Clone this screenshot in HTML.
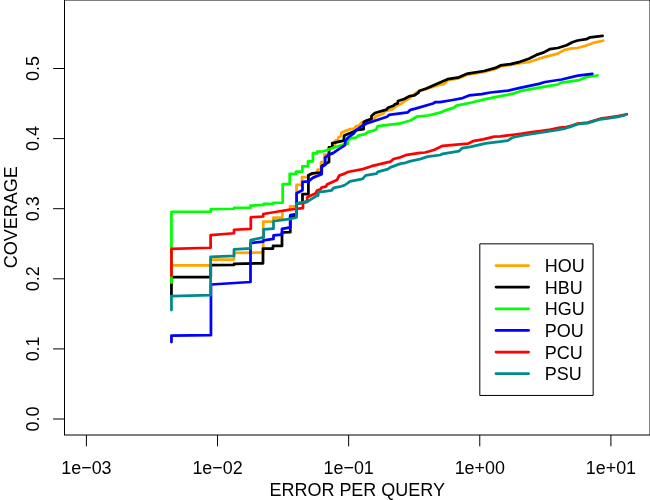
<!DOCTYPE html>
<html><head><meta charset="utf-8"><title>Coverage vs Error per Query</title>
<style>
html,body{margin:0;padding:0;background:#fff;}
body{width:650px;height:500px;overflow:hidden;position:relative;font-family:"Liberation Sans",sans-serif;}
.t{font-family:"Liberation Sans",sans-serif;fill:#000;}
</style></head><body>
<svg width="650" height="500" viewBox="0 0 650 500" style="position:absolute;left:0;top:0;display:block">
<rect x="0" y="0" width="650" height="500" fill="#fff"/>
<rect x="64.5" y="0" width="585.5" height="435" fill="none" stroke="#000" stroke-width="1"/>
<line x1="53.1" y1="419.00" x2="64.5" y2="419.00" stroke="#000" stroke-width="1"/>
<line x1="53.1" y1="348.90" x2="64.5" y2="348.90" stroke="#000" stroke-width="1"/>
<line x1="53.1" y1="278.80" x2="64.5" y2="278.80" stroke="#000" stroke-width="1"/>
<line x1="53.1" y1="208.70" x2="64.5" y2="208.70" stroke="#000" stroke-width="1"/>
<line x1="53.1" y1="138.60" x2="64.5" y2="138.60" stroke="#000" stroke-width="1"/>
<line x1="53.1" y1="68.50" x2="64.5" y2="68.50" stroke="#000" stroke-width="1"/>
<line x1="86.40" y1="435" x2="86.40" y2="446.3" stroke="#000" stroke-width="1"/>
<line x1="217.53" y1="435" x2="217.53" y2="446.3" stroke="#000" stroke-width="1"/>
<line x1="348.65" y1="435" x2="348.65" y2="446.3" stroke="#000" stroke-width="1"/>
<line x1="479.77" y1="435" x2="479.77" y2="446.3" stroke="#000" stroke-width="1"/>
<line x1="610.90" y1="435" x2="610.90" y2="446.3" stroke="#000" stroke-width="1"/>
<polyline points="171.45,285.00 171.45,265.35 210.75,265.35 210.75,259.60 234.00,259.60 234.00,252.95 263.20,252.50 263.20,221.60 273.40,221.60 273.40,217.70 282.40,217.70 282.40,211.00 290.00,209.70 290.00,206.30 296.50,206.30 296.50,184.90 302.00,184.90 302.00,177.20 306.50,177.20 308.40,175.40 316.80,172.80 317.60,169.60 321.00,169.60 321.00,162.00 324.20,162.00 324.20,154.50 329.00,154.50 329.00,147.30 332.30,147.30 332.30,145.20 335.00,145.00 335.00,140.70 338.10,139.80 338.50,137.10 340.80,136.40 341.50,132.50 344.20,131.40 350.40,129.10 354.20,128.70 355.80,126.40 359.60,125.20 361.20,122.90 363.50,121.80 368.00,120.80 372.60,119.00 373.80,118.70 376.50,116.00 383.40,113.70 384.50,111.40 392.60,109.10 395.70,106.40 401.80,103.30 404.20,101.40 409.50,98.30 412.00,95.60 415.40,93.30 418.00,91.40 420.00,90.50 427.00,88.80 440.00,84.70 444.00,84.10 447.60,80.20 458.90,78.30 467.70,74.60 484.10,72.00 495.40,68.90 500.50,66.40 510.50,64.90 520.00,63.10 530.00,61.80 545.20,56.80 557.80,53.60 564.00,50.20 570.40,48.60 577.60,48.00 586.40,45.50 595.20,42.30 603.10,40.75" fill="none" stroke="#FFA500" stroke-width="2.75" stroke-linejoin="round" stroke-linecap="round"/>
<polyline points="171.45,295.00 171.45,277.00 210.75,277.00 210.75,265.20 234.00,264.90 234.00,263.90 263.00,263.30 263.00,248.60 273.00,248.60 273.00,245.90 282.00,245.90 282.00,232.30 290.30,232.20 290.20,216.00 296.30,216.00 296.30,203.60 302.50,202.80 302.50,194.20 308.40,194.20 308.40,175.30 312.30,173.30 320.00,172.50 321.70,172.00 321.70,166.00 325.40,164.00 329.00,162.00 329.00,147.30 332.30,147.30 332.30,143.00 335.00,142.60 343.70,140.60 344.20,135.60 350.40,132.90 358.00,129.80 363.60,129.10 363.80,121.90 366.50,120.60 371.50,118.90 371.50,116.10 374.90,113.00 386.50,109.60 388.00,107.70 393.40,105.70 394.90,104.20 397.60,103.40 398.00,101.00 404.20,99.00 409.50,96.10 414.20,95.50 418.50,92.60 419.20,91.00 427.00,88.30 440.00,82.40 447.60,79.20 458.90,77.30 467.70,73.60 484.10,71.00 495.40,67.90 500.50,65.40 510.50,64.10 520.00,61.80 528.80,58.70 536.40,54.90 543.90,52.40 549.60,49.20 557.80,48.00 566.60,45.20 572.30,42.30 577.60,40.50 586.40,39.20 590.20,37.30 602.60,35.90" fill="none" stroke="#000000" stroke-width="2.75" stroke-linejoin="round" stroke-linecap="round"/>
<polyline points="171.45,282.70 171.45,211.75 210.80,211.55 210.80,209.15 234.00,208.75 234.00,207.75 250.60,207.65 250.60,205.55 263.80,204.90 263.80,203.90 273.40,203.60 273.40,202.80 282.70,202.60 282.70,184.10 289.70,184.10 289.70,173.90 296.10,173.90 296.10,171.50 302.40,171.50 302.40,166.40 308.00,166.40 308.00,161.30 312.90,161.30 312.90,153.30 317.20,153.30 317.20,151.60 323.50,151.30 328.10,149.80 331.90,148.30 343.50,144.50 347.70,143.70 347.70,140.60 351.20,137.90 355.80,137.90 358.10,135.60 365.00,134.10 368.10,131.80 372.60,130.90 376.40,129.30 377.60,126.20 399.00,123.70 410.40,120.50 416.70,116.70 428.00,115.50 440.00,112.70 446.30,110.10 453.90,107.60 456.40,105.70 471.50,102.50 486.60,98.80 500.50,96.20 513.00,93.70 520.00,91.20 535.00,88.30 549.00,85.80 557.80,84.50 561.60,82.60 579.20,80.10 586.80,76.90 597.60,75.50" fill="none" stroke="#00FF00" stroke-width="2.75" stroke-linejoin="round" stroke-linecap="round"/>
<polyline points="171.45,342.10 171.45,335.60 210.95,335.20 210.95,284.50 250.50,282.00 250.50,243.10 263.20,241.60 263.50,240.40 273.50,238.90 273.50,235.40 282.00,234.60 282.00,228.80 290.30,227.40 290.30,215.20 296.60,214.00 296.60,193.20 302.50,190.20 302.50,181.80 308.40,181.30 313.10,177.60 321.70,174.30 321.70,167.20 325.20,164.90 325.20,157.60 328.50,154.90 333.50,152.90 338.80,149.10 345.00,145.20 345.40,140.60 348.10,137.50 353.50,133.70 356.50,129.80 361.90,126.00 366.50,123.50 375.00,120.70 387.00,116.70 389.00,114.90 407.90,112.30 410.40,109.80 415.40,108.60 433.00,103.50 435.60,102.00 440.00,102.10 452.60,100.00 462.70,98.10 469.00,95.40 481.60,94.10 490.40,92.50 508.00,90.60 520.00,87.90 538.90,83.90 545.20,82.00 561.60,79.50 578.00,75.70 592.30,73.80" fill="none" stroke="#0000FF" stroke-width="2.75" stroke-linejoin="round" stroke-linecap="round"/>
<polyline points="171.45,275.70 171.45,248.95 210.60,247.75 210.60,235.15 234.00,233.25 234.00,229.75 250.80,228.85 250.80,217.25 263.20,216.50 263.20,214.00 290.40,209.50 303.00,208.10 303.00,203.00 307.20,202.00 307.20,197.40 311.50,195.30 315.80,193.20 317.00,190.50 320.70,189.20 321.50,187.60 326.20,186.40 326.90,184.60 336.90,180.10 339.20,175.60 344.60,173.60 347.60,172.00 362.70,169.10 371.50,166.20 390.40,161.70 393.50,159.00 399.20,157.70 406.80,154.80 420.00,152.90 425.00,152.50 433.90,150.00 442.70,145.80 467.90,143.70 472.90,141.20 483.00,139.30 494.30,136.70 500.00,136.40 508.00,135.40 515.10,134.50 522.00,133.70 531.50,132.20 540.00,131.00 550.40,129.60 560.00,127.60 566.00,127.00 570.00,126.20 577.60,123.50 587.60,122.50 600.20,118.70 607.80,117.70 617.90,116.20 626.80,114.25" fill="none" stroke="#FF0000" stroke-width="2.75" stroke-linejoin="round" stroke-linecap="round"/>
<polyline points="171.45,310.00 171.45,296.20 210.60,295.10 210.60,256.95 234.00,255.95 234.00,249.35 250.60,248.35 250.60,240.15 263.60,237.40 263.60,229.30 273.50,228.70 273.50,221.20 290.40,218.80 296.40,217.40 296.40,203.70 308.10,201.20 315.80,196.30 318.20,195.40 318.20,192.20 325.00,191.30 331.70,190.40 333.60,187.90 340.00,186.70 345.00,185.00 350.10,181.30 362.70,178.80 365.80,175.40 376.50,173.70 377.80,171.80 387.90,169.10 390.40,167.40 400.50,163.60 405.50,162.80 410.50,161.10 420.00,159.10 427.60,156.60 440.20,155.00 442.70,153.80 459.00,151.20 462.20,148.10 470.40,146.80 485.50,143.30 500.00,141.70 507.60,140.60 512.60,137.50 525.20,135.00 541.60,132.50 557.90,129.90 565.50,128.30 570.00,126.90 577.60,124.10 587.60,123.10 600.20,119.30 607.80,118.30 617.90,116.80 625.60,114.85" fill="none" stroke="#008B8B" stroke-width="2.75" stroke-linejoin="round" stroke-linecap="round"/>
<rect x="479.8" y="243.85" width="113.35" height="151.6" fill="#fff" stroke="#000" stroke-width="1" stroke-linejoin="round"/>
<line x1="496.0" y1="265.50" x2="528.6" y2="265.50" stroke="#FFA500" stroke-width="2.75" stroke-linecap="round"/>
<line x1="496.0" y1="287.10" x2="528.6" y2="287.10" stroke="#000000" stroke-width="2.75" stroke-linecap="round"/>
<line x1="496.0" y1="308.75" x2="528.6" y2="308.75" stroke="#00FF00" stroke-width="2.75" stroke-linecap="round"/>
<line x1="496.0" y1="330.40" x2="528.6" y2="330.40" stroke="#0000FF" stroke-width="2.75" stroke-linecap="round"/>
<line x1="496.0" y1="352.05" x2="528.6" y2="352.05" stroke="#FF0000" stroke-width="2.75" stroke-linecap="round"/>
<line x1="496.0" y1="373.70" x2="528.6" y2="373.70" stroke="#008B8B" stroke-width="2.75" stroke-linecap="round"/>
<g style="filter:grayscale(1)">
<text transform="translate(544.8,272.10) scale(1,1.06)" font-size="18" class="t">HOU</text>
<text transform="translate(544.8,293.70) scale(1,1.06)" font-size="18" class="t">HBU</text>
<text transform="translate(544.8,315.35) scale(1,1.06)" font-size="18" class="t">HGU</text>
<text transform="translate(544.8,337.00) scale(1,1.06)" font-size="18" class="t">POU</text>
<text transform="translate(544.8,358.65) scale(1,1.06)" font-size="18" class="t">PCU</text>
<text transform="translate(544.8,380.30) scale(1,1.06)" font-size="18" class="t">PSU</text>
<text transform="translate(86.40,474.2) scale(1,1.06)" font-size="17.9" text-anchor="middle" class="t">1e−03</text>
<text transform="translate(217.53,474.2) scale(1,1.06)" font-size="17.9" text-anchor="middle" class="t">1e−02</text>
<text transform="translate(348.65,474.2) scale(1,1.06)" font-size="17.9" text-anchor="middle" class="t">1e−01</text>
<text transform="translate(479.77,474.2) scale(1,1.06)" font-size="17.9" text-anchor="middle" class="t">1e+00</text>
<text transform="translate(610.90,474.2) scale(1,1.06)" font-size="17.9" text-anchor="middle" class="t">1e+01</text>
<text transform="translate(38.7,419.00) rotate(-90) scale(1,1.06)" font-size="17.9" text-anchor="middle" class="t">0.0</text>
<text transform="translate(38.7,348.90) rotate(-90) scale(1,1.06)" font-size="17.9" text-anchor="middle" class="t">0.1</text>
<text transform="translate(38.7,278.80) rotate(-90) scale(1,1.06)" font-size="17.9" text-anchor="middle" class="t">0.2</text>
<text transform="translate(38.7,208.70) rotate(-90) scale(1,1.06)" font-size="17.9" text-anchor="middle" class="t">0.3</text>
<text transform="translate(38.7,138.60) rotate(-90) scale(1,1.06)" font-size="17.9" text-anchor="middle" class="t">0.4</text>
<text transform="translate(38.7,68.50) rotate(-90) scale(1,1.06)" font-size="17.9" text-anchor="middle" class="t">0.5</text>
<text transform="translate(357.2,495.8) scale(1,1.06)" font-size="18" text-anchor="middle" class="t">ERROR PER QUERY</text>
<text transform="translate(17.4,217.2) rotate(-90) scale(1,1.06)" font-size="18" text-anchor="middle" class="t">COVERAGE</text>
</g>
</svg>
</body></html>
